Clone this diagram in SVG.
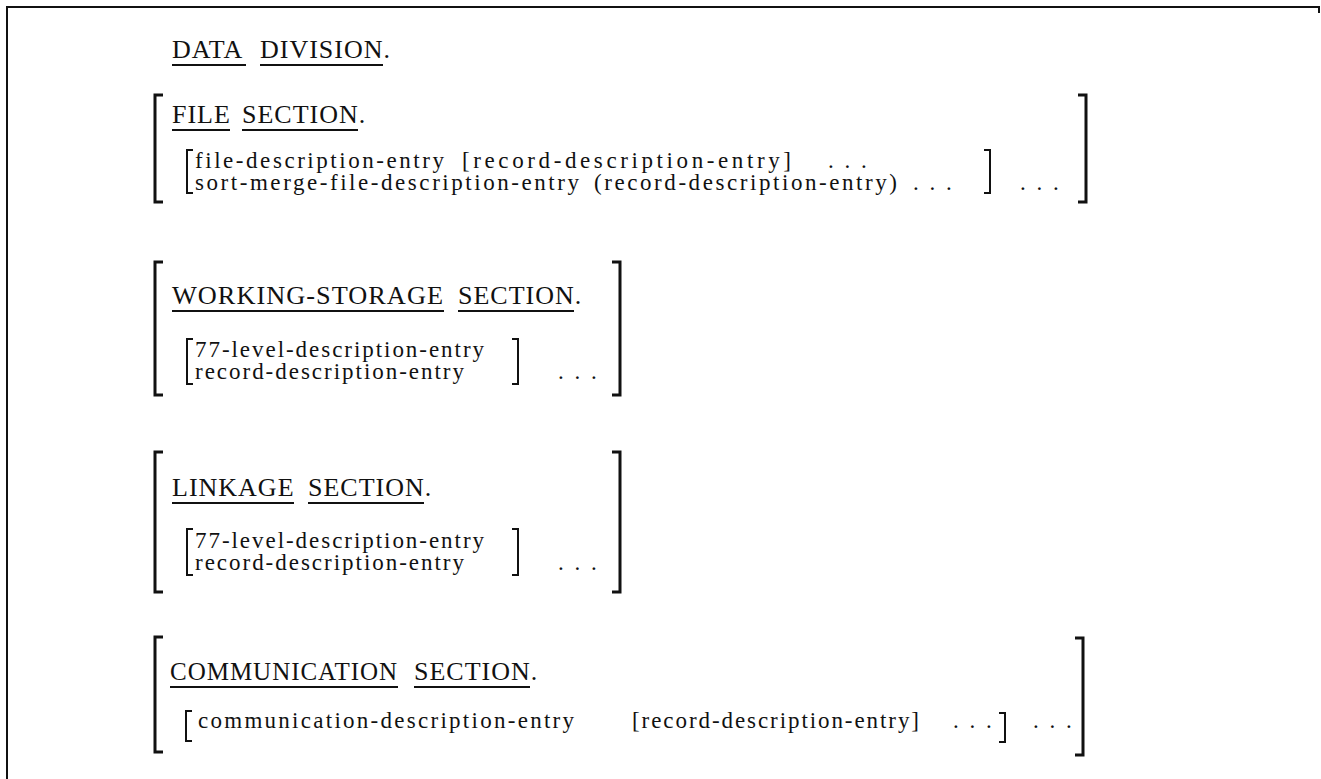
<svg xmlns="http://www.w3.org/2000/svg" width="1321" height="779" viewBox="0 0 1321 779">
  <style>
    .hd { font-family: "Liberation Serif", "Times New Roman", serif; font-size: 26px; letter-spacing: 1px; fill: #111; }
    .bd { font-family: "Liberation Serif", "Times New Roman", serif; font-size: 23px; letter-spacing: 1px; fill: #111; }
    .dots { font-family: "Liberation Serif", "Times New Roman", serif; font-size: 23px; letter-spacing: 2.5px; fill: #111; }
    .ul { stroke: #111; stroke-width: 2; fill: none; }
    .ob { stroke: #111; stroke-width: 3; fill: none; }
    .ib { stroke: #111; stroke-width: 2; fill: none; }
    .frame { stroke: #111; stroke-width: 2; fill: none; }
  </style>
  <rect width="1321" height="779" fill="#fff"/>

  <!-- page frame: open at the bottom -->
  <path class="frame" d="M7,779 V7 H1319 V13"/>

  <!-- division header -->
  <g id="division">
    <text class="hd" x="172" y="58">DATA</text>
    <text class="hd" x="260" y="58">DIVISION.</text>
    <line class="ul" x1="172" y1="65" x2="246" y2="65"/>
    <line class="ul" x1="260" y1="65" x2="383" y2="65"/>
  </g>

  <!-- FILE SECTION -->
  <g id="file-section">
    <path class="ob" d="M163,95 H155 V202 H163"/>
    <path class="ob" d="M1078,95 H1086 V202 H1078"/>
    <text class="hd" x="172" y="123">FILE</text>
    <text class="hd" x="242" y="123">SECTION.</text>
    <line class="ul" x1="172" y1="130" x2="230" y2="130"/>
    <line class="ul" x1="242" y1="130" x2="358" y2="130"/>
    <path class="ib" d="M193,150 H187 V193 H193"/>
    <text class="bd" x="195" y="168" textLength="250" lengthAdjust="spacing">file-description-entry</text>
    <text class="bd" x="462" y="168" textLength="330" lengthAdjust="spacing">[record-description-entry]</text>
    <text class="dots" x="828" y="168">. . .</text>
    <text class="bd" x="195" y="190" textLength="385" lengthAdjust="spacing">sort-merge-file-description-entry</text>
    <text class="bd" x="594" y="190" textLength="304" lengthAdjust="spacing">(record-description-entry)</text>
    <text class="dots" x="913" y="190">. . .</text>
    <path class="ib" d="M984,150 H990 V193 H984"/>
    <text class="dots" x="1020" y="190">. . .</text>
  </g>

  <!-- WORKING-STORAGE SECTION -->
  <g id="working-storage-section">
    <path class="ob" d="M163,262 H155 V395 H163"/>
    <path class="ob" d="M612,262 H620 V395 H612"/>
    <text class="hd" x="172" y="304" textLength="272" lengthAdjust="spacingAndGlyphs">WORKING-STORAGE</text>
    <text class="hd" x="458" y="304">SECTION.</text>
    <line class="ul" x1="172" y1="311" x2="444" y2="311"/>
    <line class="ul" x1="458" y1="311" x2="574" y2="311"/>
    <path class="ib" d="M193,339 H187 V384 H193"/>
    <text class="bd" x="195" y="357" textLength="290" lengthAdjust="spacing">77-level-description-entry</text>
    <text class="bd" x="195" y="379" textLength="270" lengthAdjust="spacing">record-description-entry</text>
    <path class="ib" d="M512,339 H518 V384 H512"/>
    <text class="dots" x="558" y="379">. . .</text>
  </g>

  <!-- LINKAGE SECTION -->
  <g id="linkage-section">
    <path class="ob" d="M163,452 H155 V592 H163"/>
    <path class="ob" d="M612,452 H620 V592 H612"/>
    <text class="hd" x="172" y="496">LINKAGE</text>
    <text class="hd" x="308" y="496">SECTION.</text>
    <line class="ul" x1="172" y1="503" x2="294" y2="503"/>
    <line class="ul" x1="308" y1="503" x2="424" y2="503"/>
    <path class="ib" d="M193,529 H187 V575 H193"/>
    <text class="bd" x="195" y="548" textLength="290" lengthAdjust="spacing">77-level-description-entry</text>
    <text class="bd" x="195" y="570" textLength="270" lengthAdjust="spacing">record-description-entry</text>
    <path class="ib" d="M512,529 H518 V575 H512"/>
    <text class="dots" x="558" y="570">. . .</text>
  </g>

  <!-- COMMUNICATION SECTION -->
  <g id="communication-section">
    <path class="ob" d="M163,637 H155 V752 H163"/>
    <path class="ob" d="M1075,638 H1083 V755 H1075"/>
    <text class="hd" x="170" y="680" textLength="228" lengthAdjust="spacingAndGlyphs">COMMUNICATION</text>
    <text class="hd" x="414" y="680">SECTION.</text>
    <line class="ul" x1="170" y1="687" x2="398" y2="687"/>
    <line class="ul" x1="414" y1="687" x2="530" y2="687"/>
    <path class="ib" d="M192,711 H186 V741 H192"/>
    <text class="bd" x="198" y="728" textLength="377" lengthAdjust="spacing">communication-description-entry</text>
    <text class="bd" x="632" y="728" textLength="288" lengthAdjust="spacing">[record-description-entry]</text>
    <text class="dots" x="953" y="728">. . .</text>
    <path class="ib" d="M999,713 H1005 V742 H999"/>
    <text class="dots" x="1033" y="728">. . .</text>
  </g>
</svg>
